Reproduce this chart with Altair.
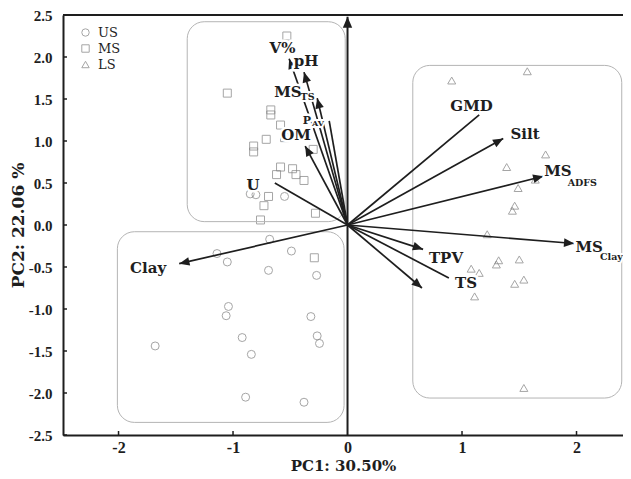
import math
import altair as alt
import pandas as pd

# ---------------- data ----------------
# sample scores
us_x = [-0.85, -0.80, -0.55, -0.68, -1.14, -0.49, -1.05, -0.69, -0.27, -1.04,
        -1.06, -0.32, -0.92, -0.265, -0.245, -1.68, -0.84, -0.89, -0.38]
us_y = [0.37, 0.36, 0.34, -0.17, -0.34, -0.31, -0.44, -0.54, -0.60, -0.97,
        -1.08, -1.09, -1.34, -1.32, -1.41, -1.44, -1.54, -2.05, -2.11]
ms_x = [-0.53, -1.05, -0.67, -0.67, -0.585, -0.71, -0.55, -0.82, -0.82, -0.30,
        -0.585, -0.62, -0.48, -0.45, -0.38, -0.69, -0.73, -0.76, -0.28, -0.29]
ms_y = [2.25, 1.57, 1.37, 1.31, 1.19, 1.02, 1.04, 0.94, 0.87, 0.90,
        0.69, 0.60, 0.67, 0.60, 0.53, 0.34, 0.23, 0.06, 0.14, -0.39]
ls_x = [0.91, 1.57, 1.73, 1.39, 1.64, 1.49, 1.46, 1.44, 1.22, 1.50,
        1.32, 1.30, 1.08, 1.15, 1.54, 1.46, 1.11, 1.54]
ls_y = [1.72, 1.83, 0.84, 0.69, 0.54, 0.44, 0.23, 0.17, -0.11, -0.41,
        -0.42, -0.47, -0.52, -0.57, -0.65, -0.70, -0.85, -1.94]
groups = ["US", "MS", "LS"]

# variable loadings (arrow tips)
load_name = ["V%", "pH", "MS_TS", "P_AV", "OM", "U", "Clay", "GMD", "Silt",
             "MS_ADFS", "MS_Clay", "TPV", "TS", "-"]
load_x = [-0.51, -0.38, -0.265, -0.16, -0.37, -0.635, -1.47, 1.15, 1.36,
          1.71, 1.98, 0.66, 0.885, 0.65]
load_y = [1.98, 1.82, 1.51, 1.24, 0.94, 0.50, -0.46, 1.31, 1.03,
          0.58, -0.22, -0.29, -0.63, -0.75]
load_head = [1, 1, 1, 0, 1, 0, 1, 0, 1, 1, 1, 1, 0, 1]

# variable labels (main part) and subscripts
lab_text = ["V%", "pH", "MS", "P", "OM", "U", "Clay", "GMD", "Silt", "MS", "MS", "TPV", "TS"]
lab_x = [-0.568, -0.362, -0.52, -0.354, -0.45, -0.825, -1.742, 1.083, 1.55, 1.838, 2.11, 0.86, 1.035]
lab_y = [2.107, 1.952, 1.583, 1.238, 1.077, 0.476, -0.512, 1.417, 1.083, 0.643, -0.262, -0.393, -0.696]
lab_fs = [15, 15, 15, 11, 15, 15, 15, 15, 15, 15, 15, 15, 15]
sub_text = ["TS", "AV", "ADFS", "Clay"]
sub_x = [-0.349, -0.258, 2.05, 2.305]
sub_y = [1.524, 1.202, 0.50, -0.381]
sub_fs = [9.5, 8, 9.5, 9.5]

# rounded group outlines (data units)
box_x1 = [-1.40, -2.01, 0.57]
box_x2 = [-0.02, -0.03, 2.395]
box_y1 = [2.42, -0.08, 1.90]
box_y2 = [0.04, -2.35, -2.06]

x_ticks = [-2, -1, 0, 1, 2]
y_ticks = [-2.5, -2.0, -1.5, -1.0, -0.5, 0.0, 0.5, 1.0, 1.5, 2.0, 2.5]
x_title = "PC1: 30.50%"
y_title = "PC2: 22.06 %"

# ---------------- geometry helpers ----------------
W, H = 560, 420
XD = [-2.485, 2.406]
YD = [-2.5, 2.5]
kx = W / (XD[1] - XD[0])
ky = H / (YD[1] - YD[0])

pts = pd.DataFrame({
    "x": us_x + ms_x + ls_x,
    "y": us_y + ms_y + ls_y,
    "g": ["US"] * len(us_x) + ["MS"] * len(ms_x) + ["LS"] * len(ls_x),
})

loads = pd.DataFrame({"name": load_name, "x": load_x, "y": load_y, "head": load_head})
loads["x0"] = 0.0
loads["y0"] = 0.0
loads["ang"] = [
    (math.degrees(math.atan2(a * kx, b * ky)) + 360) % 360 for a, b in zip(load_x, load_y)
]
heads = loads[loads["head"] == 1]

labs = pd.DataFrame({"t": lab_text, "x": lab_x, "y": lab_y, "fs": lab_fs})
subs = pd.DataFrame({"t": sub_text, "x": sub_x, "y": sub_y, "fs": sub_fs})
boxes = pd.DataFrame({"x": box_x1, "x2": box_x2, "y": box_y1, "y2": box_y2})
axis_arrow = pd.DataFrame({"x": [0.0], "y": [YD[0]], "y2": [2.48], "ang": [0.0]})
xt = pd.DataFrame({"x": [v for v in x_ticks if v != 0]})
yt = pd.DataFrame({"y": y_ticks})

FONT = "DejaVu Serif"
TICKFONT = "Liberation Serif"
INK = "#1e1e1e"
xs = alt.Scale(domain=XD, nice=False, zero=False)
ys = alt.Scale(domain=YD, nice=False, zero=False)

x_axis = alt.Axis(
    values=x_ticks, grid=False, ticks=False, domain=True, domainColor=INK, domainWidth=2,
    labelPadding=4, titlePadding=3, labelFontSize=16,
    titleFont=FONT, titleFontWeight="bold", titleFontSize=15, titleColor=INK,
    labelExpr="datum.value < 0 ? '-' + format(-datum.value, 'd') : format(datum.value, 'd')",
)
y_axis = alt.Axis(
    values=y_ticks, grid=False, ticks=False, domain=True, domainColor=INK, domainWidth=2,
    labelPadding=11, titlePadding=1, labelFontSize=15,
    titleFont=FONT, titleFontWeight="bold", titleFontSize=17, titleColor=INK,
    labelExpr="datum.value < 0 ? '-' + format(-datum.value, '.1f') : format(datum.value, '.1f')",
)

def X(f="x"):
    return alt.X(f"{f}:Q", scale=xs, axis=x_axis, title=x_title)

def Y(f="y"):
    return alt.Y(f"{f}:Q", scale=ys, axis=y_axis, title=y_title)

ARROW = "M0,0L-0.42,1L0.42,1Z"

box_layer = alt.Chart(boxes).mark_rect(
    cornerRadius=17, fillOpacity=0, stroke="#b4b4b4", strokeWidth=1
).encode(x=X(), x2="x2:Q", y=Y(), y2="y2:Q")

point_layer = alt.Chart(pts).mark_point(filled=False, size=64, strokeWidth=1, color="#808080").encode(
    x=X(),
    y=Y(),
    shape=alt.Shape(
        "g:N",
        scale=alt.Scale(domain=groups, range=["circle", "square", "triangle-up"]),
        legend=alt.Legend(
            title=None, orient="none", legendX=16, legendY=11, symbolSize=55,
            symbolStrokeWidth=1, symbolStrokeColor="#808080", labelFont=FONT,
            labelFontSize=13, labelColor=INK, rowPadding=2, labelOffset=6,
        ),
    ),
)

line_layer = alt.Chart(loads).mark_rule(color=INK, strokeWidth=1.7).encode(
    x=X("x0"), y=Y("y0"), x2="x:Q", y2="y:Q"
)

head_layer = alt.Chart(heads).mark_point(
    shape=ARROW, filled=True, size=420, color=INK, opacity=1, strokeWidth=0
).encode(x=X(), y=Y(), angle=alt.Angle("ang:Q", scale=None))

vaxis_line = alt.Chart(axis_arrow).mark_rule(color=INK, strokeWidth=2).encode(
    x=X(), y=Y(), y2="y2:Q"
)
vaxis_head = alt.Chart(axis_arrow).mark_point(
    shape=ARROW, filled=True, size=500, color=INK, opacity=1, strokeWidth=0
).encode(x=X(), y=Y("y2"), angle=alt.Angle("ang:Q", scale=None))

top_line = alt.Chart(axis_arrow).mark_rule(color=INK, strokeWidth=2).encode(
    x=alt.value(0), x2=alt.value(W), y=alt.value(0)
)
xtick_layer = alt.Chart(xt).mark_rule(color=INK, strokeWidth=1.5).encode(
    x=X(), y=alt.value(H), y2=alt.value(H - 4)
)
ytick_layer = alt.Chart(yt).mark_rule(color=INK, strokeWidth=1.5).encode(
    y=Y(), x=alt.value(0), x2=alt.value(4)
)

halo = alt.Chart(labs).mark_text(
    font=FONT, fontWeight="bold", stroke="white", strokeWidth=5, color="white",
    align="center", baseline="middle",
).encode(x=X(), y=Y(), text="t:N", size=alt.Size("fs:Q", scale=None))
txt = alt.Chart(labs).mark_text(
    font=FONT, fontWeight="bold", color=INK, align="center", baseline="middle",
).encode(x=X(), y=Y(), text="t:N", size=alt.Size("fs:Q", scale=None))
sub_halo = alt.Chart(subs).mark_text(
    font=FONT, fontWeight="bold", stroke="white", strokeWidth=4,
    color="white", align="center", baseline="middle",
).encode(x=X(), y=Y(), text="t:N", size=alt.Size("fs:Q", scale=None))
sub_txt = alt.Chart(subs).mark_text(
    font=FONT, fontWeight="bold", color=INK, align="center", baseline="middle",
).encode(x=X(), y=Y(), text="t:N", size=alt.Size("fs:Q", scale=None))

chart = alt.layer(
    point_layer, box_layer, line_layer, head_layer, vaxis_line, vaxis_head, top_line,
    xtick_layer, ytick_layer, halo, sub_halo, txt, sub_txt,
).properties(
    width=W, height=H, autosize=alt.AutoSizeParams(type="none"),
    padding={"left": 55, "top": 7, "right": 0, "bottom": 42},
    background="white",
).configure_view(
    stroke=None
).configure_axis(
    labelFont=TICKFONT, labelFontWeight="bold", labelColor=INK,
)

chart.save("out.html", embed_options={"renderer": "svg", "actions": False})
